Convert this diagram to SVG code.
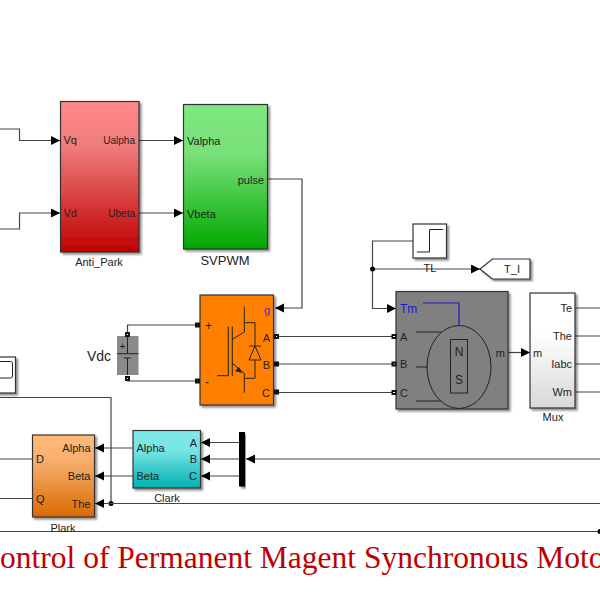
<svg xmlns="http://www.w3.org/2000/svg" width="600" height="600" viewBox="0 0 600 600">
<style>
text{font-family:"Liberation Sans",Arial,sans-serif;font-size:11px;fill:#222}
.m{text-anchor:middle}.e{text-anchor:end}
.w{fill:none;stroke:#444;stroke-width:1.2}
.b{stroke:#333;stroke-width:1.2}
.i{fill:none;stroke:#222;stroke-width:1}
.port{fill:#fff;stroke:#111;stroke-width:2}
</style>
<defs>
<marker id="a" markerUnits="userSpaceOnUse" markerWidth="10" markerHeight="10" refX="9" refY="4.5" orient="auto"><path d="M0 0L9 4.5L0 9Z" fill="#000"/></marker>
<filter id="s" x="-10%" y="-10%" width="125%" height="125%"><feDropShadow dx="2" dy="2" stdDeviation="1.2" flood-color="#000" flood-opacity=".45"/></filter>
<linearGradient id="gr" x1="0" y1="0" x2="0" y2="1"><stop offset="0" stop-color="#f88"/><stop offset=".3" stop-color="#f07c7c"/><stop offset="1" stop-color="#c00000"/></linearGradient>
<linearGradient id="gg" x1="0" y1="0" x2="0" y2="1"><stop offset="0" stop-color="#80e880"/><stop offset=".35" stop-color="#78e078"/><stop offset="1" stop-color="#00a800"/></linearGradient>
<linearGradient id="go" x1="0" y1="0" x2="0" y2="1"><stop offset="0" stop-color="#ffbb77"/><stop offset=".3" stop-color="#f8b070"/><stop offset="1" stop-color="#d96a00"/></linearGradient>
<linearGradient id="gc" x1="0" y1="0" x2="0" y2="1"><stop offset="0" stop-color="#80e8e8"/><stop offset=".35" stop-color="#78e4e4"/><stop offset="1" stop-color="#00b0b0"/></linearGradient>
<linearGradient id="gm" x1="0" y1="0" x2="0" y2="1"><stop offset="0" stop-color="#fff"/><stop offset=".35" stop-color="#fff"/><stop offset="1" stop-color="#d8d8d8"/></linearGradient>
</defs>
<rect width="600" height="600" fill="#fff"/>

<g id="connectors">
<path class="w" d="M0 129H19.5V140.5H60" marker-end="url(#a)"/>
<path class="w" d="M0 229H19.5V213H60" marker-end="url(#a)"/>
<path class="w" d="M139 140.5H183" marker-end="url(#a)"/>
<path class="w" d="M139 213H183" marker-end="url(#a)"/>
<path class="w" d="M267.5 179H302V308H275" marker-end="url(#a)"/>
<path class="w" d="M127.5 334V325H197"/>
<path class="w" d="M127.5 378V381H197"/>
<path class="w" d="M276 336.5H396"/>
<path class="w" d="M276 364H396"/>
<path class="w" d="M276 392.5H396"/>
<path class="w" d="M413 241H372.5V308.5H396" marker-end="url(#a)"/>
<path class="w" d="M372.5 269H480" marker-end="url(#a)"/>
<circle cx="372.5" cy="269" r="2.5" fill="#000"/>
<path class="w" d="M508 352.5H530" marker-end="url(#a)"/>
<path class="w" d="M575 308H600M575 336H600M575 364H600M575 392H600"/>
<path class="w" d="M0 397.5H111V503.5"/>
<circle cx="111" cy="503.5" r="2.5" fill="#000"/>
<path class="w" d="M600 503.5H95" marker-end="url(#a)"/>
<path class="w" d="M0 459H32.5M0 498.5H32.5"/>
<path class="w" d="M133 448H95" marker-end="url(#a)"/>
<path class="w" d="M133 476H95" marker-end="url(#a)"/>
<path class="w" d="M239 442.5H201" marker-end="url(#a)"/>
<path class="w" d="M239 459H201" marker-end="url(#a)"/>
<path class="w" d="M239 476H201" marker-end="url(#a)"/>
<path class="w" d="M600 459H246" marker-end="url(#a)"/>
<path class="w" d="M0 531.5H600"/>
<circle cx="600" cy="531.5" r="2.5" fill="#000"/>
</g>

<g id="anti_park">
<rect class="b" x="60.5" y="101.5" width="78.5" height="150.5" fill="url(#gr)" filter="url(#s)"/>
<text x="63.5" y="144">Vq</text><text x="63.5" y="217">Vd</text>
<text class="e" x="135" y="144" style="font-size:10px">Ualpha</text><text class="e" x="135" y="217" style="font-size:10px">Ubeta</text>
<text class="m" x="99" y="266">Anti_Park</text>
</g>

<g id="svpwm">
<rect class="b" x="183.5" y="104.5" width="84" height="144.5" fill="url(#gg)" filter="url(#s)"/>
<text x="187" y="145">Valpha</text><text x="187" y="218">Vbeta</text>
<text class="e" x="264" y="184">pulse</text>
<text class="m" x="225" y="265" style="font-size:13px">SVPWM</text>
</g>

<g id="inverter">
<rect class="b" x="200" y="295" width="73.5" height="110" fill="#ff8000" filter="url(#s)"/>
<path class="i" d="M244.3 306.7V332L232.3 339.3M232.3 326.7V376M228.3 326.7V375.7H217.3M232.3 363.3L244.3 373.3V392.7M244.3 322.7H255V346M255 360V378.3H244.3"/>
<path d="M239 367L242 373L235 371Z" fill="#222"/>
<path class="i" d="M249 346H261M255 346L261 360H249Z"/>
<text x="205" y="330" style="font-size:12px">+</text><text x="205" y="386" style="font-size:12px">-</text>
<text class="e" x="270" y="314" style="fill:#4a2fc0;font-size:11px">g</text>
<text class="e" x="270" y="342">A</text><text class="e" x="270" y="369">B</text><text class="e" x="270" y="397">C</text>
<rect class="port" x="196" y="323.5" width="3" height="3"/><rect class="port" x="196" y="379.5" width="3" height="3"/>
<rect class="port" x="275" y="335" width="3" height="3"/><rect class="port" x="275" y="362.5" width="3" height="3"/><rect class="port" x="275" y="390.5" width="3" height="3"/>
</g>

<g id="vdc">
<rect x="117" y="336" width="21.5" height="39" fill="#8a8a8a"/>
<path class="i" d="M127.5 336V353.7M117 353.7H138.5M124 358H131M127.5 358V375"/>
<text x="119.5" y="350" style="font-size:10px">+</text>
<rect class="port" x="126" y="333" width="3" height="3" stroke-width="1.5"/>
<rect class="port" x="126" y="377" width="3" height="3" stroke-width="1.5"/>
<text x="87" y="361" style="font-size:14px">Vdc</text>
</g>

<g id="motor">
<rect class="b" x="396" y="291.5" width="112" height="117.5" fill="#808080" filter="url(#s)"/>
<text x="400" y="313" style="fill:#1a1acc;font-size:12px">Tm</text>
<path d="M423 303H459V325" fill="none" stroke="#1a1acc" stroke-width="1.2"/>
<ellipse class="i" cx="459" cy="367" rx="32" ry="41.5"/>
<path class="i" d="M416 332H441M416 367H428M416 401H441"/>
<rect class="i" x="450.5" y="339.5" width="17" height="53.5"/>
<text class="m" x="459" y="356" style="font-size:12px">N</text><text class="m" x="459" y="384" style="font-size:12px">S</text>
<text x="400" y="340.5">A</text><text x="400" y="368">B</text><text x="400" y="396.5">C</text>
<text class="e" x="505" y="356.5">m</text>
<rect class="port" x="392.5" y="335" width="3" height="3"/><rect class="port" x="392.5" y="362.5" width="3" height="3"/><rect class="port" x="392.5" y="391" width="3" height="3"/>
</g>

<g id="mux">
<rect class="b" x="530" y="293" width="45" height="115" fill="url(#gm)" filter="url(#s)"/>
<text x="533" y="356.5">m</text>
<text class="e" x="572" y="312">Te</text><text class="e" x="572" y="340">The</text><text class="e" x="572" y="368">Iabc</text><text class="e" x="572" y="396">Wm</text>
<text class="m" x="553" y="421">Mux</text>
</g>

<g id="tl">
<rect class="b" x="413" y="224" width="33.5" height="34" fill="#fff" filter="url(#s)"/>
<path class="i" d="M417 252H429.5V229.5H443" stroke="#555"/>
<text class="m" x="430" y="272">TL</text>
</g>

<g id="t_i">
<path class="b" d="M480 269L492.5 259H530V279H492.5Z" fill="#fff" filter="url(#s)"/>
<text class="m" x="512" y="273">T_I</text>
</g>

<g id="scope">
<rect class="b" x="-10" y="357" width="25.5" height="36" fill="#fff" filter="url(#s)"/>
<rect class="i" x="-10" y="361.5" width="22.5" height="16.5" rx="2" stroke="#555"/>
</g>

<g id="plark">
<rect class="b" x="32.5" y="435" width="62" height="82" fill="url(#go)" filter="url(#s)"/>
<text x="36" y="463">D</text><text x="36" y="502.5">Q</text>
<text class="e" x="90.5" y="452">Alpha</text><text class="e" x="90.5" y="480">Beta</text><text class="e" x="90.5" y="508">The</text>
<text class="m" x="63" y="532">Plark</text>
</g>

<g id="clark">
<rect class="b" x="133" y="430.5" width="67.5" height="57.5" fill="url(#gc)" filter="url(#s)"/>
<text x="136.5" y="452">Alpha</text><text x="136.5" y="480">Beta</text>
<text class="e" x="197" y="446.5">A</text><text class="e" x="197" y="463">B</text><text class="e" x="197" y="480">C</text>
<text class="m" x="167" y="502">Clark</text>
</g>

<g id="demux">
<rect x="239" y="432" width="6" height="54.5" fill="#000" filter="url(#s)"/>
</g>

<text x="-21" y="568" style="font-family:'Liberation Serif','Times New Roman',serif;font-size:31.5px;fill:#c00000">Control of Permanent Magent Synchronous Motor</text>
</svg>
